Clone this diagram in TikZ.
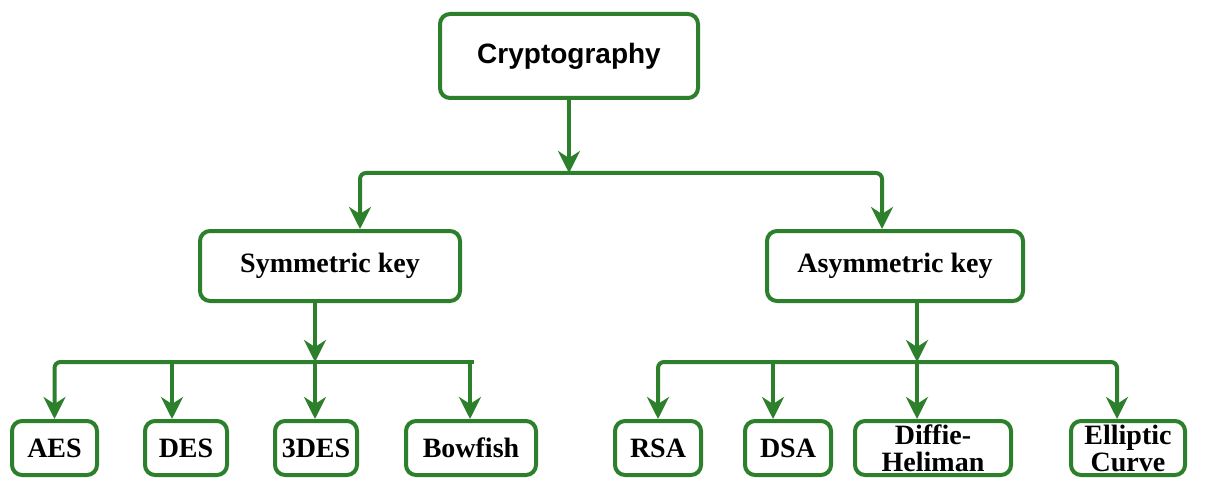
\documentclass[tikz,border=0pt]{standalone}
\usepackage{fontspec}
\setmainfont{Liberation Serif}
\newfontfamily\headfont{Liberation Sans}
\usetikzlibrary{arrows.meta}
\definecolor{treegreen}{RGB}{44,128,44}
\tikzset{box/.style = {draw = treegreen, line width = 4pt, rounded corners = 10pt, fill = white, inner sep = 0pt, align = center, font = \bfseries\fontsize{28}{27}\selectfont}}
\tikzset{arr/.style = {draw = treegreen, line width = 4pt, -{Stealth[length=22pt, width=22pt, inset=7pt]}}}
\tikzset{bar/.style = {draw = treegreen, line width = 4pt}}

\begin{document}
\begin{tikzpicture}[x=1pt, y=1pt]
\useasboundingbox (0,0) rectangle (1206,480);
\node[box, minimum width=258pt, minimum height=84pt, font=\headfont\bfseries\fontsize{28}{30}\selectfont] (crypto) at (569,424) {Cryptography};
\node[box, minimum width=260pt, minimum height=70pt] (sym) at (330,214) {Symmetric key};
\node[box, minimum width=256pt, minimum height=70pt] (asym) at (895,214) {Asymmetric key};
\node[box, minimum width=85pt, minimum height=54pt] (aes) at (54.5,32) {AES};
\node[box, minimum width=82pt, minimum height=54pt] (des) at (186,32) {DES};
\node[box, minimum width=82pt, minimum height=54pt] (tdes) at (316,32) {3DES};
\node[box, minimum width=130pt, minimum height=54pt] (bow) at (471,32) {Bowfish};
\node[box, minimum width=86pt, minimum height=54pt] (rsa) at (658,32) {RSA};
\node[box, minimum width=86pt, minimum height=54pt] (dsa) at (788,32) {DSA};
\node[box, minimum width=156pt, minimum height=54pt] (dh) at (933,32) {Diffie-\\Heliman};
\node[box, minimum width=114pt, minimum height=54pt] (ell) at (1128,32) {Elliptic\\Curve};
\coordinate (top) at (569,307);
\coordinate (s1) at (360,307);
\coordinate (s2) at (882,307);
\draw[arr] (crypto) -- (top);
\draw[arr, rounded corners=6pt] (top) -| (s1 |- sym.north);
\draw[arr, rounded corners=6pt] (top) -| (s2 |- asym.north);
\coordinate (l0) at (315,118);
\coordinate (l2) at (172,118);
\coordinate (l4) at (470,118);
\coordinate (le) at (474,118);
\draw[arr] (l0 |- sym.south) -- (l0);
\draw[arr, rounded corners=6pt] (l0) -| (aes.north);
\draw[bar] (l0) -- (le);
\draw[arr] (l2) -- (l2 |- des.north);
\draw[arr] (l0) -- (l0 |- tdes.north);
\draw[arr] (l4) -- (l4 |- bow.north);
\coordinate (r0) at (917,118);
\coordinate (r2) at (773,118);
\coordinate (r4) at (1117,118);
\draw[arr] (r0 |- asym.south) -- (r0);
\draw[arr, rounded corners=6pt] (r0) -| (rsa.north);
\draw[arr, rounded corners=6pt] (r0) -| (r4 |- ell.north);
\draw[arr] (r2) -- (r2 |- dsa.north);
\draw[arr] (r0) -- (r0 |- dh.north);
\end{tikzpicture}
\end{document}
